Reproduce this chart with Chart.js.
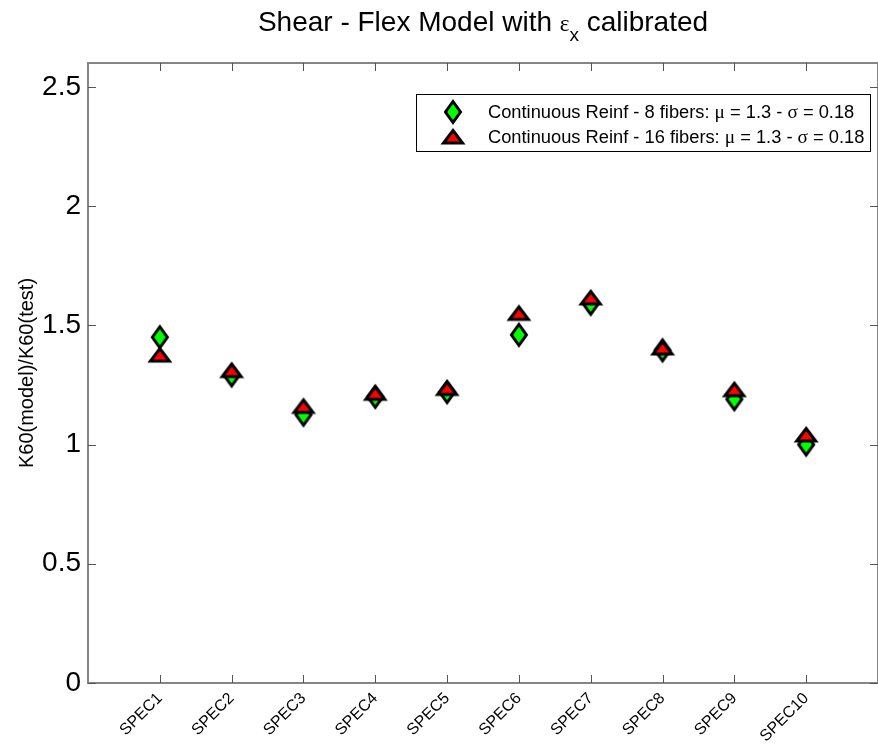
<!DOCTYPE html>
<html>
<head>
<meta charset="utf-8">
<script src="https://cdn.jsdelivr.net/npm/chart.js@4.4.0/dist/chart.umd.min.js"></script>
<style>
  html, body { margin: 0; padding: 0; background: #fff; overflow: hidden; }
</style>
</head>
<body>
<canvas id="chartShear" width="878" height="749"></canvas>
<script>
// values
const specimens = ['SPEC1', 'SPEC2', 'SPEC3', 'SPEC4', 'SPEC5', 'SPEC6', 'SPEC7', 'SPEC8', 'SPEC9', 'SPEC10'];
const fibers8 = [1.45, 1.29, 1.125, 1.20, 1.22, 1.46, 1.59, 1.395, 1.19, 1.00];
const fibers16 = [1.375, 1.31, 1.16, 1.215, 1.235, 1.55, 1.615, 1.405, 1.23, 1.04];
const yTicks = [0, 0.5, 1, 1.5, 2, 2.5];
const legendLabels = [
    'Continuous Reinf - 8 fibers: \u03bc = 1.3 - \u03c3 = 0.18',
    'Continuous Reinf - 16 fibers: \u03bc = 1.3 - \u03c3 = 0.18'
];

const SANS = '"Liberation Sans", Arial, sans-serif';
const SERIF = '"Liberation Serif", "Times New Roman", serif';

function diamondMarker() {
    const c = document.createElement('canvas');
    c.width = 26; c.height = 30;
    const g = c.getContext('2d');
    g.beginPath();
    g.moveTo(13, 4.5); g.lineTo(20.5, 15); g.lineTo(13, 25.5); g.lineTo(5.5, 15);
    g.closePath();
    g.fillStyle = '#00ff00';
    g.fill();
    g.lineWidth = 3;
    g.lineJoin = 'miter';
    g.strokeStyle = '#000';
    g.stroke();
    return c;
}

function triangleMarker() {
    const c = document.createElement('canvas');
    c.width = 30; c.height = 24;
    const g = c.getContext('2d');
    g.beginPath();
    g.moveTo(15, 5.5); g.lineTo(24.5, 18); g.lineTo(5.5, 18);
    g.closePath();
    g.fillStyle = '#ff0000';
    g.fill();
    g.lineWidth = 3;
    g.lineJoin = 'miter';
    g.strokeStyle = '#000';
    g.stroke();
    return c;
}

const diamondImg = diamondMarker();
const triangleImg = triangleMarker();

// draws text, using a serif face for greek letters
function drawMixed(ctx, text, x, y, size) {
    let cx = x;
    for (const ch of text) {
        const greek = /[\u0370-\u03ff]/.test(ch);
        ctx.font = (greek ? size + 1 : size) + 'px ' + (greek ? SERIF : SANS);
        ctx.fillText(ch, cx, y);
        cx += ctx.measureText(ch).width;
    }
}

const framePlugin = {
    id: 'frame',
    afterDraw(chart) {
        const ctx = chart.ctx;
        const a = chart.chartArea;
        const xs = chart.scales.x, ys = chart.scales.y;
        ctx.save();
        ctx.strokeStyle = '#858585';
        ctx.lineWidth = 2;
        ctx.strokeRect(a.left, a.top, a.right - a.left, a.bottom - a.top);

        ctx.strokeStyle = '#555';
        ctx.lineWidth = 1;
        ctx.beginPath();
        specimens.forEach((s, i) => {
            const px = Math.round(xs.getPixelForValue(i + 1)) + 0.5;
            ctx.moveTo(px, a.bottom); ctx.lineTo(px, a.bottom - 8);
            ctx.moveTo(px, a.top); ctx.lineTo(px, a.top + 8);
        });
        yTicks.forEach(v => {
            const py = Math.round(ys.getPixelForValue(v)) + 0.5;
            ctx.moveTo(a.left, py); ctx.lineTo(a.left + 8, py);
            ctx.moveTo(a.right, py); ctx.lineTo(a.right - 8, py);
        });
        ctx.stroke();

        // title with subscript
        ctx.fillStyle = '#000';
        ctx.textBaseline = 'alphabetic';
        ctx.textAlign = 'left';
        const parts = [
            { t: 'Shear - Flex Model with ', f: '28px ' + SANS, dy: 0 },
            { t: '\u03b5', f: '23px ' + SERIF, dy: 0 },
            { t: 'x', f: '19px ' + SANS, dy: 10 },
            { t: ' calibrated', f: '28px ' + SANS, dy: 0 }
        ];
        let total = 0;
        parts.forEach(p => { ctx.font = p.f; p.w = ctx.measureText(p.t).width; total += p.w; });
        let tx = (a.left + a.right) / 2 - total / 2;
        parts.forEach(p => {
            ctx.font = p.f;
            ctx.fillText(p.t, tx, 31 + p.dy);
            tx += p.w;
        });

        // legend
        ctx.fillStyle = '#fff';
        ctx.fillRect(416, 94, 454, 57);
        ctx.strokeStyle = '#000';
        ctx.lineWidth = 1;
        ctx.strokeRect(416.5, 94.5, 454, 57);
        const rowsY = [112, 137];
        const imgs = [diamondImg, triangleImg];
        ctx.fillStyle = '#000';
        ctx.textBaseline = 'middle';
        legendLabels.forEach((lab, i) => {
            const im = imgs[i];
            ctx.drawImage(im, 453 - im.width / 2, rowsY[i] - im.height / 2);
            drawMixed(ctx, lab, 488, rowsY[i] + 1, 18.3);
        });
        ctx.restore();
    }
};

const chartElement = document.getElementById('chartShear');

const configScatter = {
    type: 'scatter',
    data: {
        datasets: [
            {
                label: legendLabels[0],
                data: specimens.map((s, i) => ({ x: i + 1, y: fibers8[i] })),
                pointStyle: diamondImg,
                order: 2
            },
            {
                label: legendLabels[1],
                data: specimens.map((s, i) => ({ x: i + 1, y: fibers16[i] })),
                pointStyle: triangleImg,
                order: 1
            }
        ]
    },
    options: {
        responsive: false,
        animation: false,
        layout: { autoPadding: false, padding: { top: 63, left: 0, right: 0, bottom: 0 } },
        plugins: {
            legend: { display: false },
            tooltip: { enabled: false }
        },
        scales: {
            x: {
                type: 'linear',
                min: 0,
                max: 11,
                afterBuildTicks: s => { s.ticks = specimens.map((n, i) => ({ value: i + 1 })); },
                afterFit: s => { s.height = 66; s.paddingLeft = 0; s.paddingRight = 0; },
                grid: { display: false, drawTicks: false },
                border: { display: false },
                ticks: {
                    autoSkip: false,
                    minRotation: 45,
                    maxRotation: 45,
                    padding: 6,
                    color: '#000',
                    font: { family: SANS, size: 16 },
                    callback: v => specimens[v - 1]
                }
            },
            y: {
                min: 0,
                max: 2.6,
                afterBuildTicks: s => { s.ticks = yTicks.map(v => ({ value: v })); },
                afterFit: s => { s.width = 88; s.paddingTop = 0; s.paddingBottom = 0; },
                grid: { display: false, drawTicks: false },
                border: { display: false },
                ticks: {
                    padding: 7,
                    color: '#000',
                    font: { family: SANS, size: 28 },
                    callback: v => String(v)
                },
                title: {
                    display: true,
                    text: 'K60(model)/K60(test)',
                    color: '#000',
                    font: { family: SANS, size: 20 },
                    padding: { top: 15, bottom: 0 }
                }
            }
        }
    },
    plugins: [framePlugin]
};

var chartShear = new Chart(chartElement, configScatter);
</script>
</body>
</html>
